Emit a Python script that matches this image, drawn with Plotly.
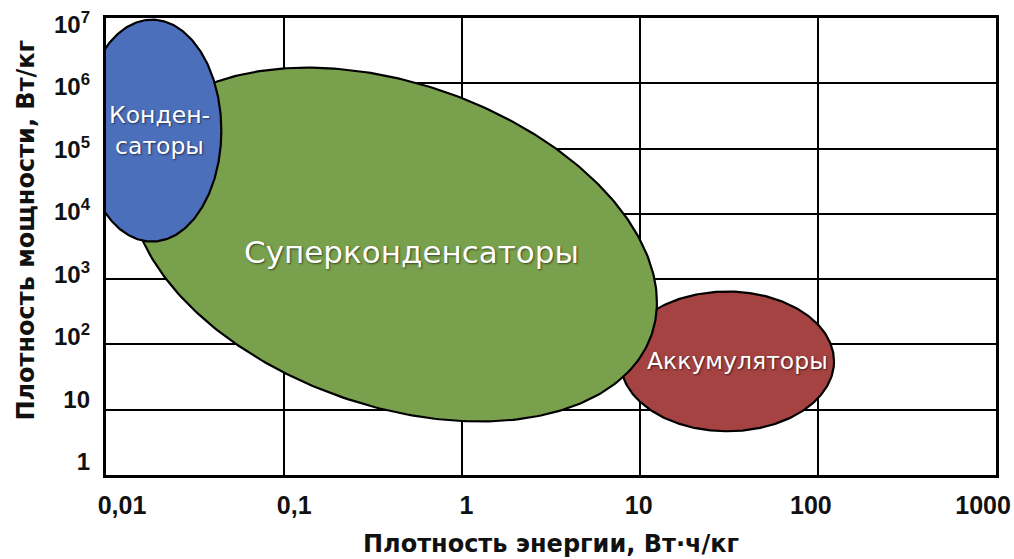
import numpy as np
import plotly.graph_objects as go

# ---- data (log10 units) ----
region_names = ["Аккумуляторы", "Суперконденсаторы", "Конден-<br>саторы"]
region_center_logx = [1.49, -0.385, -1.742]
region_center_logy = [1.74, 3.53, 5.275]
region_half_x = [0.60, 1.48, 0.39]      # decades
region_half_y = [1.07, 2.71, 1.70]      # decades
region_phase_deg = [90.0, 109.1, 90.0]  # tilt of region in log-log space
region_colors = ["#a54242", "#79a04c", "#4b6fbb"]
label_logx = [1.545, -0.281, -1.700]
label_logy = [1.74, 3.42, 5.276]
label_sizes = [23.5, 31, 23.5]

x_ticks = [0.01, 0.1, 1, 10, 100, 1000]
x_ticktext = ["0,01", "0,1", "1", "10", "100", "1000"]
y_ticks = [1, 10, 100, 1e3, 1e4, 1e5, 1e6, 1e7]
y_ticktext = ["1", "10", "10<sup>2</sup>", "10<sup>3</sup>", "10<sup>4</sup>",
              "10<sup>5</sup>", "10<sup>6</sup>", "10<sup>7</sup>"]

x_title = "Плотность энергии, Вт·ч/кг"
y_title = "Плотность мощности, Вт/кг"

fig = go.Figure()
t = np.linspace(0, 2 * np.pi, 361)
for i in range(len(region_names)):
    ph = np.deg2rad(region_phase_deg[i])
    lx = region_center_logx[i] + region_half_x[i] * np.cos(t)
    ly = region_center_logy[i] + region_half_y[i] * np.cos(t - ph)
    fig.add_trace(go.Scatter(
        x=10 ** lx, y=10 ** ly, mode="lines", fill="toself",
        fillcolor=region_colors[i], line=dict(color="black", width=2.2),
        hoverinfo="skip", showlegend=False))
    fig.add_annotation(
        x=label_logx[i], y=label_logy[i], xref="x", yref="y",
        text=region_names[i], showarrow=False,
        font=dict(family="DejaVu Sans, sans-serif", size=label_sizes[i],
                  color="white", shadow="1px 1px 2px rgba(0,0,0,0.55)"))

# helper trace for label axes
fig.add_trace(go.Scatter(x=[], y=[], xaxis="x2", yaxis="y2", showlegend=False))

title_font = dict(family="DejaVu Sans", size=24, color="#111", weight="bold")
fig.add_annotation(x=0.5, y=-0.152, xref="paper", yref="paper", text=x_title,
                   showarrow=False, xanchor="center", yanchor="middle", font=title_font)
fig.add_annotation(x=-0.0899, y=0.537, xref="paper", yref="paper", text=y_title,
                   showarrow=False, textangle=-90, xanchor="center", yanchor="middle",
                   font=title_font)

tick_font = dict(family="Liberation Sans, Arial", size=25, color="#111", weight="bold")

fig.update_layout(
    width=1014, height=559,
    margin=dict(l=106, r=18, t=18, b=84),
    paper_bgcolor="white", plot_bgcolor="white",
    xaxis=dict(type="log", range=[-2, 3], tickvals=x_ticks, showticklabels=False,
               showgrid=True, gridcolor="black", gridwidth=2,
               showline=True, linecolor="black", linewidth=3, mirror=True,
               ticks="", zeroline=False, automargin=False),
    yaxis=dict(type="log", range=[0, 7], tickvals=y_ticks, showticklabels=False,
               showgrid=True, gridcolor="black", gridwidth=2,
               showline=True, linecolor="black", linewidth=3, mirror=True,
               ticks="", zeroline=False, automargin=False),
    xaxis2=dict(type="log", range=[-2.093, 3.075], overlaying="x", anchor="y", side="bottom",
                tickvals=x_ticks, ticktext=x_ticktext,
                showgrid=False, showline=False, zeroline=False, ticks="",
                ticklabelstandoff=13, tickfont=tick_font, automargin=False),
    yaxis2=dict(type="log", range=[-0.216, 7.107], overlaying="y", anchor="x", side="left",
                tickvals=y_ticks, ticktext=y_ticktext,
                showgrid=False, showline=False, zeroline=False, ticks="",
                ticklabelstandoff=15, tickfont=dict(tick_font, size=24), automargin=False),
)

fig.write_html("out.html", config={"displayModeBar": False},
               post_script="document.body.style.margin='0';document.body.style.overflow='hidden';")
